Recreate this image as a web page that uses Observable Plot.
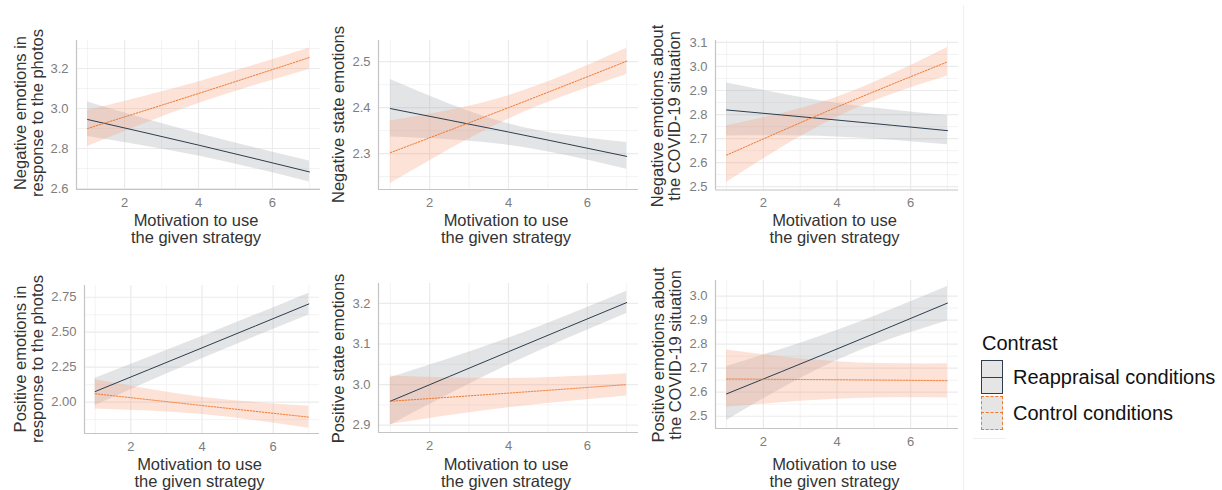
<!DOCTYPE html>
<html>
<head>
<meta charset="utf-8">
<script src="https://cdn.jsdelivr.net/npm/d3@7"></script>
<script src="https://cdn.jsdelivr.net/npm/@observablehq/plot@0.6"></script>
<style>
  html, body { margin: 0; padding: 0; background: #fff; }
  body { font-family: "Liberation Sans", Arial, Helvetica, sans-serif; }
  #root { position: relative; width: 1222px; height: 490px; overflow: hidden; background: #fff; }
  .panel { position: absolute; }
  .ytitle { position: absolute; font-size: 16.5px; line-height: 17px; color: #333; text-align: center;
            white-space: nowrap; transform: rotate(-90deg); transform-origin: 50% 50%; }
  .xtitle { position: absolute; font-size: 16.5px; line-height: 16.5px; color: #333; text-align: center; white-space: nowrap; }
  .leg-title { position: absolute; font-size: 20px; line-height: 20px; color: #111; white-space: nowrap; }
  .leg-label { position: absolute; font-size: 20px; line-height: 20px; color: #111; white-space: nowrap; }
  .leg-key { position: absolute; box-sizing: border-box; background: #e5e5e5; }
  .leg-line { position: absolute; }
  .faint { position: absolute; background: #f0f0f0; }
</style>
</head>
<body>
<div id="root"></div>
<script>
// ---------------- data ----------------
const xKnots = [1, 4, 7];
const xTicks = [2, 4, 6];
const xMinor = [1, 3, 5, 7];
const xDomain = [0.7, 7.3];

const xTitle = ["Motivation to use", "the given strategy"];
const outcomeLabels = [
  ["Negative emotions in", "response to the photos"],
  ["Negative state emotions"],
  ["Negative emotions about", "the COVID-19 situation"],
  ["Positive emotions in", "response to the photos"],
  ["Positive state emotions"],
  ["Positive emotions about", "the COVID-19 situation"]
];

const yDomains = [
  [2.595, 3.34], [2.222, 2.546], [2.486, 3.108],
  [1.776, 2.834], [2.882, 3.249], [2.449, 3.065]
];
const yTicks = [
  [2.6, 2.8, 3.0, 3.2],
  [2.3, 2.4, 2.5],
  [2.5, 2.6, 2.7, 2.8, 2.9, 3.0, 3.1],
  [2.00, 2.25, 2.50, 2.75],
  [2.9, 3.0, 3.1, 3.2],
  [2.5, 2.6, 2.7, 2.8, 2.9, 3.0]
];
const yMinor = [
  [2.7, 2.9, 3.1, 3.3],
  [2.25, 2.35, 2.45],
  [2.55, 2.65, 2.75, 2.85, 2.95, 3.05],
  [1.875, 2.125, 2.375, 2.625],
  [2.95, 3.05, 3.15],
  [2.55, 2.65, 2.75, 2.85, 2.95]
];
const yTickFormats = [".1f", ".1f", ".1f", ".2f", ".1f", ".1f"];

// Reappraisal conditions: fitted value and CI at x = 1, 4, 7
const reapFit = [
  [2.945, 2.817, 2.683], [2.398, 2.347, 2.294], [2.819, 2.777, 2.733],
  [2.076, 2.388, 2.702], [2.959, 3.081, 3.202], [2.593, 2.780, 2.971]
];
const reapLo = [
  [2.860, 2.762, 2.633], [2.336, 2.318, 2.266], [2.711, 2.707, 2.674],
  [1.976, 2.310, 2.624], [2.900, 3.048, 3.175], [2.482, 2.732, 2.896]
];
const reapHi = [
  [3.033, 2.875, 2.738], [2.461, 2.365, 2.324], [2.931, 2.847, 2.796],
  [2.171, 2.469, 2.779], [3.017, 3.114, 3.230], [2.707, 2.857, 3.040]
];
// Control conditions
const ctrlFit = [
  [2.900, 3.075, 3.255], [2.302, 2.400, 2.501], [2.631, 2.831, 3.019],
  [2.060, 1.976, 1.893], [2.959, 2.979, 3.000], [2.655, 2.652, 2.648]
];
const ctrlLo = [
  [2.810, 3.025, 3.195], [2.235, 2.375, 2.472], [2.517, 2.789, 2.960],
  [1.952, 1.912, 1.814], [2.902, 2.943, 2.972], [2.537, 2.571, 2.576]
];
const ctrlHi = [
  [2.990, 3.133, 3.303], [2.371, 2.426, 2.529], [2.753, 2.872, 3.079],
  [2.160, 2.036, 1.971], [3.021, 3.015, 3.027], [2.776, 2.727, 2.718]
];

const legendTitle = "Contrast";
const seriesNames = ["Reappraisal conditions", "Control conditions"];

// ---------------- layout / style ----------------
const colReap = "#2c3e50", colCtrl = "#f2782f";
const fillReap = "#a9aeb4", fillCtrl = "#f8a07a";
const gridCol = "#ebebeb", axisCol = "#c4c4c4", tickCol = "#7d7d7d";
const frames = [
  {left: 76,  top: 40,  w: 244, h: 149,   tcx: 28.8,  tcy: 113, xcy: 212},
  {left: 378, top: 40,  w: 260, h: 149,   tcx: 338.3, tcy: 114, xcy: 212},
  {left: 715, top: 40,  w: 243, h: 149.5, tcx: 666.1, tcy: 116, xcy: 212},
  {left: 84,  top: 285, w: 235, h: 148,   tcx: 28.8,  tcy: 358.5, xcy: 456},
  {left: 378, top: 283, w: 260, h: 149,   tcx: 338.3, tcy: 358, xcy: 456},
  {left: 715, top: 280, w: 243, h: 148,   tcx: 666.8, tcy: 354.5, xcy: 456}
];
const ML = 45, MR = 3, MT = 3, MB = 26;
const root = document.getElementById("root");

function el(cls, styles, text) {
  const d = document.createElement("div");
  d.className = cls;
  Object.assign(d.style, styles);
  if (text != null) d.innerHTML = text;
  root.appendChild(d);
  return d;
}

// faint page lines
el("faint", {left: "963px", top: "5px", width: "1px", height: "485px"});
el("faint", {left: "973px", top: "438px", width: "33px", height: "1px"});

const xFmt = d3.format("d");

frames.forEach((f, i) => {
  const reap = xKnots.map((x, k) => ({x, fit: reapFit[i][k], lo: reapLo[i][k], hi: reapHi[i][k]}));
  const ctrl = xKnots.map((x, k) => ({x, fit: ctrlFit[i][k], lo: ctrlLo[i][k], hi: ctrlHi[i][k]}));
  const fmt = d3.format(yTickFormats[i]);
  const chart = Plot.plot({
    width: ML + f.w + MR,
    height: MT + f.h + MB,
    marginLeft: ML, marginRight: MR, marginTop: MT, marginBottom: MB,
    x: {domain: xDomain},
    y: {domain: yDomains[i]},
    style: {fontFamily: '"Liberation Sans", Arial, Helvetica, sans-serif', fontSize: "13px",
            color: tickCol, background: "transparent", overflow: "visible"},
    marks: [
      Plot.gridX(xMinor, {stroke: gridCol, strokeOpacity: 1, strokeWidth: 0.6}),
      Plot.gridY(yMinor[i], {stroke: gridCol, strokeOpacity: 1, strokeWidth: 0.6}),
      Plot.gridX(xTicks, {stroke: gridCol, strokeOpacity: 1, strokeWidth: 1.2}),
      Plot.gridY(yTicks[i], {stroke: gridCol, strokeOpacity: 1, strokeWidth: 1.2}),
      Plot.areaY(reap, {x: "x", y1: "lo", y2: "hi", fill: fillReap, fillOpacity: 0.33, curve: "natural"}),
      Plot.areaY(ctrl, {x: "x", y1: "lo", y2: "hi", fill: fillCtrl, fillOpacity: 0.3, curve: "natural"}),
      Plot.line(reap, {x: "x", y: "fit", stroke: colReap, strokeWidth: 1, curve: "natural"}),
      Plot.line(ctrl, {x: "x", y: "fit", stroke: colCtrl, strokeWidth: 1, strokeDasharray: "1.5,1.5", curve: "natural"}),
      Plot.ruleX([xDomain[0]], {stroke: axisCol, strokeWidth: 1.2}),
      Plot.ruleY([yDomains[i][0]], {stroke: axisCol, strokeWidth: 1.2}),
      Plot.axisX({ticks: xTicks, tickSize: 0, tickPadding: 8, label: null, tickFormat: xFmt, fill: tickCol}),
      Plot.axisY({ticks: yTicks[i], tickSize: 0, tickPadding: 8, label: null, tickFormat: fmt, fill: tickCol})
    ]
  });
  chart.classList.add("panel");
  chart.style.left = (f.left - ML) + "px";
  chart.style.top = (f.top - MT) + "px";
  root.appendChild(chart);

  // y title (rotated)
  const lines = outcomeLabels[i];
  const W = 220, H = 17 * lines.length;
  el("ytitle", {left: (f.tcx - W / 2) + "px", top: (f.tcy - H / 2) + "px", width: W + "px", height: H + "px"},
     lines.join("<br>"));
  // x title
  const XW = 200;
  el("xtitle", {left: (f.left + f.w / 2 - 2 - XW / 2) + "px", top: f.xcy + "px", width: XW + "px"},
     xTitle.join("<br>"));
});

// legend
el("leg-title", {left: "982px", top: "333px"}, legendTitle);
el("leg-key", {left: "981px", top: "360px", width: "22px", height: "34px", border: "1.5px solid " + colReap});
el("leg-line", {left: "981px", top: "376.5px", width: "22px", height: "0", borderTop: "1.5px solid " + colReap});
el("leg-key", {left: "981px", top: "395.5px", width: "22px", height: "34px", border: "1.5px dashed " + colCtrl});
el("leg-line", {left: "981px", top: "412px", width: "22px", height: "0", borderTop: "1.5px dashed " + colCtrl});
el("leg-label", {left: "1013px", top: "367px"}, seriesNames[0]);
el("leg-label", {left: "1013px", top: "402.5px"}, seriesNames[1]);
</script>
</body>
</html>
